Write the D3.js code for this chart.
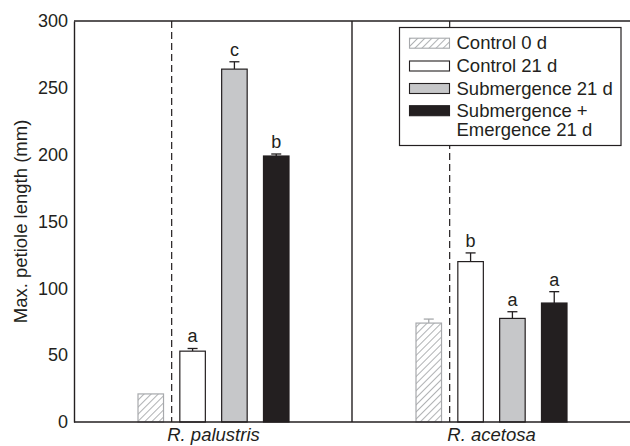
<!DOCTYPE html>
<html>
<head>
<meta charset="utf-8">
<script src="https://cdn.jsdelivr.net/npm/d3@7"></script>
<style>
  body { margin: 0; background: #fff; }
  text { font-family: "Liberation Sans", Arial, sans-serif; fill: #231f20; }
</style>
</head>
<body>
<svg id="chart" width="630" height="446"></svg>
<script>
// Species (x groups) and treatments (bars within each group)
const species = ["R. palustris", "R. acetosa"];
const treatments = ["Control 0 d", "Control 21 d", "Submergence 21 d", "Submergence + Emergence 21 d"];
const legendLines = [["Control 0 d"], ["Control 21 d"], ["Submergence 21 d"], ["Submergence +", "Emergence 21 d"]];

// Mean max. petiole length (mm) per species, in treatment order
const palustrisMeans = [21, 53, 264, 199];
const acetosaMeans = [74, 120, 77.5, 89];
// Standard error (mm)
const palustrisErr = [0, 2, 5.5, 1.5];
const acetosaErr = [3, 6.5, 5, 8.5];
// Significance letters (none for the day-0 control)
const palustrisLetters = ["", "a", "c", "b"];
const acetosaLetters = ["", "b", "a", "a"];

const yTicks = [0, 50, 100, 150, 200, 250, 300];

const means = [palustrisMeans, acetosaMeans];
const errs = [palustrisErr, acetosaErr];
const letters = [palustrisLetters, acetosaLetters];

const FS = 18;
const svg = d3.select("#chart");
const margin = { left: 74, right: 0, top: 21, bottom: 24 };
const W = 630, H = 446;
const plotBottom = H - margin.bottom;

const x0 = d3.scaleBand().domain(species).range([margin.left, W - margin.right]);
const x1 = d3.scaleBand().domain(treatments).range([64, 215]).paddingInner(0.39).paddingOuter(0);
const y = d3.scaleLinear().domain([0, 300]).range([plotBottom, margin.top]);

const fills = ["url(#hatch)", "#ffffff", "#c6c7c9", "#231f20"];
const strokes = ["#a7a9ac", "#231f20", "#231f20", "#231f20"];

// Diagonal hatch for the day-0 control
const defs = svg.append("defs");
const pat = defs.append("pattern")
  .attr("id", "hatch").attr("patternUnits", "userSpaceOnUse")
  .attr("width", 5).attr("height", 5)
  .attr("patternTransform", "rotate(45)");
pat.append("rect").attr("width", 5).attr("height", 5).attr("fill", "#fff");
pat.append("line").attr("x1", 0).attr("y1", 0).attr("x2", 0).attr("y2", 5)
  .attr("stroke", "#a7a9ac").attr("stroke-width", 1.8);

// Dashed separators between day-0 and day-21 bars
species.forEach(s => {
  const gapX = x0(s) + (x1(treatments[0]) + x1.bandwidth() + x1(treatments[1])) / 2;
  svg.append("line")
    .attr("x1", gapX).attr("x2", gapX)
    .attr("y1", y(300)).attr("y2", plotBottom)
    .attr("stroke", "#231f20").attr("stroke-width", 1.2)
    .attr("stroke-dasharray", "7,4");
});

// Divider between species panels
svg.append("line")
  .attr("x1", x0(species[1])).attr("x2", x0(species[1]))
  .attr("y1", y(300)).attr("y2", plotBottom)
  .attr("stroke", "#231f20").attr("stroke-width", 1.4);

// Bars, error bars and letters
species.forEach((s, si) => {
  treatments.forEach((t, ti) => {
    const v = means[si][ti], e = errs[si][ti];
    const bx = x0(s) + x1(t), bw = x1.bandwidth();
    const cx = bx + bw / 2;
    if (e > 0) {
      svg.append("line").attr("x1", cx).attr("x2", cx)
        .attr("y1", y(v)).attr("y2", y(v + e))
        .attr("stroke", strokes[ti]).attr("stroke-width", 1.3);
      svg.append("line").attr("x1", cx - 5).attr("x2", cx + 5)
        .attr("y1", y(v + e)).attr("y2", y(v + e))
        .attr("stroke", strokes[ti]).attr("stroke-width", 1.3);
    }
    svg.append("rect")
      .attr("x", bx).attr("y", y(v))
      .attr("width", bw).attr("height", plotBottom - y(v))
      .attr("fill", fills[ti]).attr("stroke", strokes[ti]).attr("stroke-width", 1.2);
    if (letters[si][ti]) {
      svg.append("text").attr("x", cx).attr("y", y(v + e) - 6)
        .attr("text-anchor", "middle").attr("font-size", FS)
        .text(letters[si][ti]);
    }
  });
});

// Axes frame: top and bottom
svg.append("line").attr("x1", margin.left).attr("x2", W).attr("y1", y(300)).attr("y2", y(300))
  .attr("stroke", "#231f20").attr("stroke-width", 1.4);
svg.append("line").attr("x1", margin.left).attr("x2", W).attr("y1", plotBottom).attr("y2", plotBottom)
  .attr("stroke", "#231f20").attr("stroke-width", 1.4);

const yAxis = svg.append("g").attr("transform", `translate(${margin.left},0)`)
  .call(d3.axisLeft(y).tickValues(yTicks).tickSize(0).tickPadding(6));
yAxis.select(".domain").attr("stroke", "#231f20").attr("stroke-width", 1.4);
yAxis.selectAll("text").attr("font-size", FS).attr("fill", "#231f20")
  .style("font-family", "'Liberation Sans', Arial, sans-serif");

// Species labels
species.forEach(s => {
  svg.append("text")
    .attr("x", x0(s) + (x1(treatments[0]) + x1(treatments[3]) + x1.bandwidth()) / 2)
    .attr("y", 441).attr("text-anchor", "middle")
    .attr("font-size", 18.5).attr("font-style", "italic").text(s);
});

// Y-axis title
svg.append("text")
  .attr("transform", `translate(26.5,${(y(300) + plotBottom) / 2}) rotate(-90)`)
  .attr("text-anchor", "middle").attr("font-size", 18.5)
  .text("Max. petiole length (mm)");

// Legend
const lg = svg.append("g").attr("transform", "translate(399.5,27.5)");
lg.append("rect").attr("width", 221.5).attr("height", 118)
  .attr("fill", "#fff").attr("stroke", "#231f20").attr("stroke-width", 1.2);
const rowBase = [21.7, 44.5, 67, 89.2];
legendLines.forEach((lines, i) => {
  lg.append("rect").attr("x", 10).attr("y", rowBase[i] - 11)
    .attr("width", 40).attr("height", 10)
    .attr("fill", fills[i]).attr("stroke", strokes[i]).attr("stroke-width", 1.1);
  lines.forEach((ln, j) => {
    lg.append("text").attr("x", 57).attr("y", rowBase[i] + j * 19.5)
      .attr("font-size", 18.5).text(ln);
  });
});
</script>
</body>
</html>
